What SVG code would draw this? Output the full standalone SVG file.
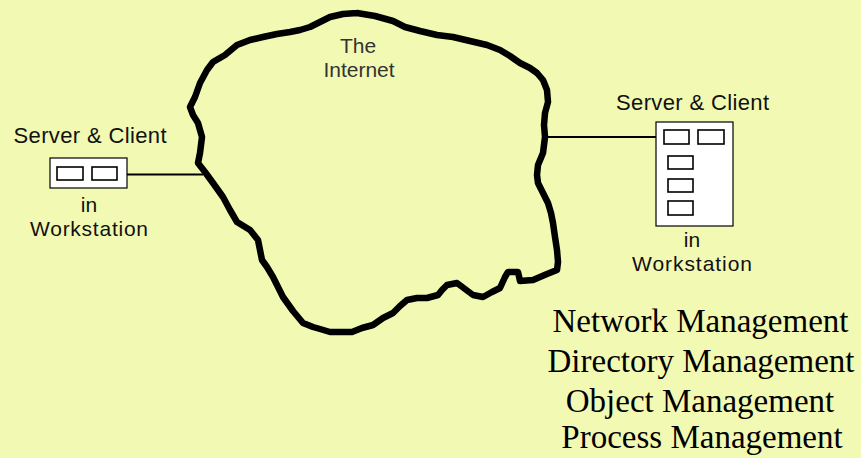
<svg xmlns="http://www.w3.org/2000/svg" width="861" height="458" viewBox="0 0 861 458">
  <style>
    .bg { fill: #f2f9b3; }
    .cloud { fill: none; stroke: #000; stroke-width: 6.5; stroke-linejoin: round; stroke-linecap: round; }
    .box { fill: #fff; stroke: #000; stroke-width: 1.2; }
    .slot { fill: #fff; stroke: #000; stroke-width: 1.6; }
    .link { stroke: #000; stroke-width: 1.8; fill: none; }
    .lbl { font-family: "Liberation Sans", Arial, Helvetica, sans-serif; font-size: 22px; fill: #111; text-anchor: middle; }
    .sub { font-family: "Liberation Sans", Arial, Helvetica, sans-serif; font-size: 21px; fill: #111; text-anchor: middle; }
    .net { font-family: "Liberation Sans", Arial, Helvetica, sans-serif; font-size: 21px; fill: #333; text-anchor: middle; }
    .mgmt { font-family: "Liberation Serif", "Times New Roman", serif; font-size: 33px; fill: #000; text-anchor: middle; }
  </style>
  <rect class="bg" x="0" y="0" width="861" height="458"/>

  <!-- The Internet cloud -->
  <g id="internet">
    <polyline class="cloud" points="357,13 375,16 393,21 405,27 420,31 437,35 453,37 470,41 487,45 500,50 510,56 520,63 530,68 537,73 543,80 547,90 548,102 545,113 544,125 545,137 543,153 538,165 537,175 538,183 543,193 548,203 551,213 553,223 555,237 557,250 558,262 557,270 547,274 533,280 520,281 518,272 508,272 505,277 500,288 492,292 483,297 473,295 465,289 457,283 447,285 442,290 438,295 427,298 417,298 407,300 400,306 393,313 383,318 373,325 362,328 352,332 340,332 330,332 320,329 313,327 303,323 293,311 283,297 278,287 273,277 267,267 262,260 260,250 258,240 250,230 237,222 230,210 223,197 213,183 205,172 198,163 200,153 202,137 198,123 193,115 190,107 195,97 200,83 207,70 213,62 225,55 237,45 250,40 263,37 277,34 290,32 300,30 310,27 320,22 330,17 343,14 357,13"/>
    <text class="net" x="358" y="53">The</text>
    <text class="net" x="359" y="77">Internet</text>
  </g>

  <!-- connectors -->
  <g id="connectors">
    <line class="link" x1="117" y1="174.5" x2="203" y2="174.5"/>
    <line class="link" x1="545" y1="137" x2="665" y2="137"/>
  </g>

  <!-- left workstation -->
  <g id="ws-left">
    <text class="lbl" x="90" y="143" textLength="153" lengthAdjust="spacing">Server &amp; Client</text>
    <rect class="box" x="50" y="158" width="77" height="30"/>
    <rect class="slot" x="57" y="167" width="26" height="13"/>
    <rect class="slot" x="92" y="167" width="25" height="13"/>
    <text class="sub" x="89" y="212">in</text>
    <text class="sub" x="89" y="235.5" textLength="118" lengthAdjust="spacing">Workstation</text>
  </g>

  <!-- right workstation -->
  <g id="ws-right">
    <text class="lbl" x="692.5" y="110" textLength="153" lengthAdjust="spacing">Server &amp; Client</text>
    <rect class="box" x="656" y="122" width="77" height="104"/>
    <rect class="slot" x="664" y="130" width="25" height="14"/>
    <rect class="slot" x="698" y="130" width="26" height="14"/>
    <rect class="slot" x="668" y="156" width="25" height="13"/>
    <rect class="slot" x="668" y="179" width="25" height="13"/>
    <rect class="slot" x="668" y="201" width="25" height="14"/>
    <text class="sub" x="692" y="247">in</text>
    <text class="sub" x="692" y="271" textLength="120" lengthAdjust="spacing">Workstation</text>
  </g>

  <!-- management services -->
  <g id="services">
    <text class="mgmt" x="700.5" y="332">Network Management</text>
    <text class="mgmt" x="701" y="372">Directory Management</text>
    <text class="mgmt" x="700" y="412">Object Management</text>
    <text class="mgmt" x="702" y="448">Process Management</text>
  </g>
</svg>
